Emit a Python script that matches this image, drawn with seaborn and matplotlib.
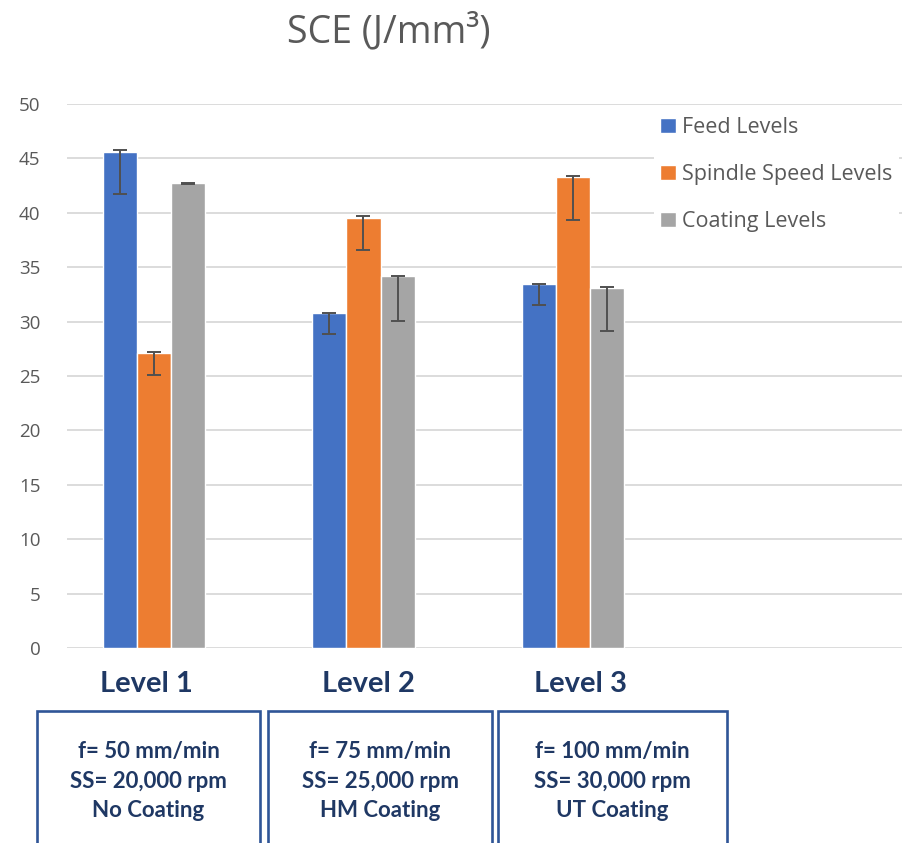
import matplotlib
matplotlib.use("Agg")
import matplotlib.pyplot as plt
from matplotlib.patches import Rectangle
import numpy as np
import pandas as pd
import seaborn as sns

# Categories and series
levels = ["Level 1", "Level 2", "Level 3"]
series = ["Feed Levels", "Spindle Speed Levels", "Coating Levels"]

feed_sce = [45.6, 30.8, 33.5]
spindle_sce = [27.1, 39.5, 43.25]
coating_sce = [42.7, 34.2, 33.1]

# Error bar bounds (absolute upper / lower ends)
feed_hi = [45.75, 30.75, 33.45]
feed_lo = [41.7, 28.85, 31.55]
spindle_hi = [27.2, 39.7, 43.4]
spindle_lo = [25.1, 36.55, 39.3]
coating_hi = [42.75, 34.15, 33.2]
coating_lo = [42.65, 30.1, 29.15]

box_texts = [
    "f= 50 mm/min\nSS= 20,000 rpm\nNo Coating",
    "f= 75 mm/min\nSS= 25,000 rpm\nHM Coating",
    "f= 100 mm/min\nSS= 30,000 rpm\nUT Coating",
]

yticks = [0, 5, 10, 15, 20, 25, 30, 35, 40, 45, 50]

colors = ["#4472C4", "#ED7D31", "#A5A5A5"]
navy = "#1F3864"
text_gray = "#595959"

df = pd.DataFrame({
    "level": levels * 3,
    "series": [s for s in series for _ in levels],
    "sce": feed_sce + spindle_sce + coating_sce,
})

sns.set_style("white")
plt.rcParams["font.family"] = ["Open Sans", "DejaVu Sans"]

W, H = 902, 843
fig = plt.figure(figsize=(W / 100, H / 100), dpi=100)
ax_left, ax_right, ax_bottom, ax_top = 67, 902, 648, 104
ax = fig.add_axes([ax_left / W, 1 - ax_bottom / H,
                   (ax_right - ax_left) / W, (ax_bottom - ax_top) / H])

sns.barplot(data=df, x="level", y="sce", hue="series", hue_order=series,
            order=levels, palette=colors, width=0.487, gap=0,
            errorbar=None, saturation=1, legend=False, ax=ax, zorder=3)

bar_containers = list(ax.containers)
his = [feed_hi, spindle_hi, coating_hi]
los = [feed_lo, spindle_lo, coating_lo]
for cont, hi, lo in zip(bar_containers, his, los):
    for bar, h, l in zip(cont, hi, lo):
        xc = bar.get_x() + bar.get_width() / 2
        ax.errorbar([xc], [(h + l) / 2], yerr=[(h - l) / 2], fmt="none",
                    ecolor="#505050", elinewidth=1.4, capsize=5,
                    capthick=1.4, zorder=4)

ax.set_ylim(0, 50)
ax.set_xlim(-0.415, 3.57)
ax.set_yticks(yticks)
ax.set_yticklabels([str(t) for t in yticks])
ax.set_xticks([])
ax.set_xlabel("")
ax.set_ylabel("")
ax.tick_params(axis="y", length=0, pad=19, labelsize=13.5, labelcolor=text_gray)
for s in ax.spines.values():
    s.set_visible(False)
ax.yaxis.grid(True, color="#D9D9D9", linewidth=1.3, zorder=0)
ax.set_axisbelow(True)

handles = [cont.patches[0] for cont in bar_containers]
leg = ax.legend(handles, series, loc="upper left",
                bbox_to_anchor=((654 - ax_left) / (ax_right - ax_left),
                                1 - (111 - ax_top) / (ax_bottom - ax_top)),
                frameon=True, fontsize=15.5, handlelength=0.7, handleheight=0.7,
                handletextpad=0.3, labelspacing=1.2, borderpad=0.3,
                borderaxespad=0)
leg.get_frame().set_facecolor("white")
leg.get_frame().set_edgecolor("none")
leg.get_frame().set_alpha(1)
leg.set_zorder(5)
for t in leg.get_texts():
    t.set_color(text_gray)

fig.text(389 / W, 1 - 32 / H, "SCE (J/mm³)", ha="center", va="center",
         fontsize=27, color=text_gray)

bold_family = ["Lato", "DejaVu Sans"]
label_x = [146, 368, 581]
for lx, lab in zip(label_x, levels):
    fig.text(lx / W, 1 - 684 / H, lab, ha="center", va="center",
             fontsize=21, fontweight="bold", color=navy, family=bold_family)

box_spans = [(37, 260), (268, 492), (498, 727)]
for (x0, x1), txt in zip(box_spans, box_texts):
    rect = Rectangle((x0 / W, -0.05), (x1 - x0) / W, 1 - 711 / H + 0.05,
                     transform=fig.transFigure, fill=False,
                     edgecolor="#2F5597", linewidth=1.9)
    fig.add_artist(rect)
    fig.text((x0 + x1) / 2 / W, 1 - 781 / H, txt, ha="center", va="center",
             fontsize=16, fontweight="bold", color=navy, family=bold_family,
             linespacing=1.5)

fig.savefig("out.png", dpi=100)
